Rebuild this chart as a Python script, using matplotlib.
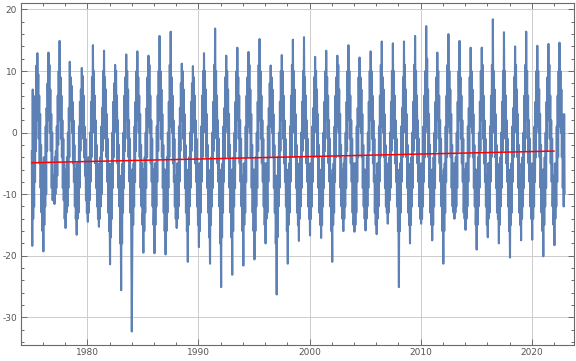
#!/usr/bin/env python
"""
Daily-ish temperature series 1975-2022 with a linear trend, Mathematica look.
"""

# Standard library modules.

# Third party modules.
import numpy as np
import matplotlib
matplotlib.use("Agg")
import matplotlib.pyplot as plt
from matplotlib.ticker import MultipleLocator

# Globals and constants variables.
# Values, two samples a month:
# Jan1 Jan16 Feb1 Feb15 Mar1 Mar16 Apr1 Apr16 May1 May16 Jun1 Jun16
# Jul1 Jul16 Aug1 Aug16 Sep1 Sep16 Oct1 Oct16 Nov1 Nov16 Dec1 Dec16
FIRST_YEAR = 1975

temps_1975_1979 = [
    [-3.0, -18.4, 7.0, -14.0, -4.0, -12.0, 1.0, -8.0, 6.0, -3.0, 10.9, 2.0, 12.9, 4.0, 9.5, -1.0, 6.0, -5.0, 3.0, -9.0, -2.0, -13.0, -5.0, -16.0],
    [-11.0, -19.3, -4.0, -15.0, -6.0, -12.0, 1.0, -10.0, 4.0, -3.0, 8.0, 2.0, 13.0, 5.0, 11.0, 0.0, 7.0, -3.0, 3.0, -9.0, 0.0, -11.0, -7.0, -10.0],
    [-8.0, -11.6, -4.0, -10.0, -3.0, -9.0, 1.0, -7.0, 6.0, -2.0, 10.0, 3.0, 14.9, 2.0, 9.0, -1.0, 6.0, -4.0, 2.0, -9.0, -1.0, -11.0, -5.0, -14.0],
    [-10.0, -15.5, -6.0, -13.0, -4.0, -12.0, 0.0, -9.0, 4.0, -4.0, 11.5, 2.0, 9.0, 3.0, 7.6, 0.0, 5.0, -5.0, 2.0, -8.0, -2.0, -12.0, -6.0, -14.0],
    [-12.0, -16.6, -5.0, -14.0, -5.0, -13.0, 1.0, -9.0, 5.0, -3.0, 7.0, 0.0, 10.5, 2.0, 9.2, -1.0, 6.0, -4.0, 1.0, -7.0, -1.0, -11.0, -7.0, -13.0],
]

temps_1980s = [
    [-10.0, -14.5, -4.0, -13.0, -6.0, -11.0, 0.0, -8.0, 5.0, -4.0, 9.0, 1.0, 14.2, 3.0, 10.0, 0.0, 6.0, -5.0, 2.0, -9.0, -2.0, -12.0, -6.0, -14.0],
    [-11.0, -15.3, -5.0, -14.0, -4.0, -12.0, 1.0, -10.0, 4.0, -3.0, 10.0, 2.0, 13.3, 4.0, 9.0, -1.0, 7.0, -4.0, 3.0, -8.0, -1.0, -13.0, -5.0, -16.0],
    [-12.0, -21.4, -6.0, -17.0, -5.0, -14.0, 0.0, -9.0, 5.0, -4.0, 8.0, 1.0, 11.0, 3.0, 10.0, 0.0, 6.0, -5.0, 2.0, -9.0, -2.0, -12.0, -7.0, -18.0],
    [-14.0, -25.6, -8.0, -18.0, -5.0, -13.0, 0.0, -9.0, 6.0, -3.0, 9.0, 2.0, 12.7, 3.0, 10.0, -1.0, 7.0, -4.0, 2.0, -8.0, -1.0, -13.0, -6.0, -20.0],
    [-32.3, -18.0, -6.0, -15.0, -5.0, -12.0, 1.0, -8.0, 5.0, -3.0, 10.0, 2.0, 13.2, 4.0, 9.0, 0.0, 6.0, -4.0, 3.0, -9.0, -2.0, -12.0, -5.0, -15.0],
    [-13.0, -19.5, -6.0, -16.0, -4.0, -13.0, 0.0, -9.0, 4.0, -4.0, 9.0, 1.0, 12.5, 3.0, 11.0, 0.0, 6.0, -5.0, 2.0, -8.0, -1.0, -12.0, -6.0, -15.0],
    [-12.0, -19.6, -5.0, -15.0, -5.0, -12.0, 1.0, -8.0, 6.0, -3.0, 10.0, 2.0, 15.7, 4.0, 10.0, -1.0, 7.0, -4.0, 3.0, -9.0, -2.0, -13.0, -6.0, -16.0],
    [-11.0, -19.8, -6.0, -16.0, -4.0, -13.0, 0.0, -9.0, 5.0, -4.0, 11.0, 1.0, 16.4, 3.0, 9.0, 0.0, 6.0, -5.0, 2.0, -8.0, -1.0, -12.0, -7.0, -14.0],
    [-10.0, -15.5, -5.0, -14.0, -5.0, -12.0, 1.0, -8.0, 4.0, -3.0, 8.0, 2.0, 11.2, 3.0, 10.0, -1.0, 7.0, -4.0, 3.0, -9.0, -2.0, -13.0, -6.0, -16.0],
    [-13.0, -21.0, -6.0, -15.0, -4.0, -12.0, 0.0, -9.0, 5.0, -3.0, 8.0, 1.0, 10.8, 2.0, 9.0, 0.0, 6.0, -5.0, 2.0, -8.0, -1.0, -12.0, -5.0, -15.0],
]

temps_1990s = [
    [-12.0, -18.6, -5.0, -16.0, -5.0, -13.0, 1.0, -8.0, 6.0, -4.0, 10.0, 2.0, 12.9, 4.0, 10.0, 0.0, 7.0, -4.0, 3.0, -9.0, -2.0, -13.0, -7.0, -17.0],
    [-13.0, -21.3, -6.0, -15.0, -4.0, -12.0, 0.0, -9.0, 5.0, -3.0, 11.0, 2.0, 16.9, 3.0, 10.0, -1.0, 6.0, -5.0, 2.0, -8.0, -1.0, -12.0, -6.0, -18.0],
    [-14.0, -25.1, -7.0, -17.0, -5.0, -13.0, 1.0, -8.0, 4.0, -4.0, 9.0, 1.0, 12.5, 3.0, 10.0, 0.0, 7.0, -4.0, 3.0, -9.0, -2.0, -13.0, -6.0, -17.0],
    [-13.0, -23.1, -6.0, -16.0, -4.0, -12.0, 0.0, -9.0, 5.0, -3.0, 10.0, 2.0, 13.8, 4.0, 9.0, -1.0, 6.0, -5.0, 2.0, -8.0, -1.0, -12.0, -7.0, -16.0],
    [-12.0, -21.6, -5.0, -15.0, -5.0, -13.0, 1.0, -8.0, 6.0, -4.0, 9.0, 1.0, 13.1, 3.0, 11.0, 0.0, 7.0, -4.0, 3.0, -9.0, -2.0, -13.0, -6.0, -16.0],
    [-11.0, -20.6, -6.0, -16.0, -4.0, -12.0, 0.0, -9.0, 5.0, -3.0, 11.0, 2.0, 15.2, 4.0, 10.0, -1.0, 6.0, -5.0, 2.0, -8.0, -1.0, -12.0, -5.0, -15.0],
    [-10.0, -18.0, -5.0, -14.0, -5.0, -13.0, 1.0, -8.0, 4.0, -4.0, 8.0, 1.0, 10.9, 3.0, 9.0, 0.0, 7.0, -4.0, 3.0, -9.0, -2.0, -13.0, -7.0, -18.0],
    [-14.0, -26.3, -7.0, -17.0, -4.0, -12.0, 0.0, -9.0, 5.0, -3.0, 10.0, 2.0, 12.6, 4.0, 10.0, -1.0, 6.0, -5.0, 2.0, -8.0, -1.0, -12.0, -6.0, -16.0],
    [-12.0, -21.3, -6.0, -15.0, -5.0, -13.0, 1.0, -8.0, 6.0, -4.0, 11.0, 1.0, 15.1, 3.0, 10.0, 0.0, 7.0, -4.0, 3.0, -9.0, -2.0, -13.0, -6.0, -15.0],
    [-11.0, -17.6, -5.0, -14.0, -4.0, -12.0, 0.0, -9.0, 5.0, -3.0, 10.0, 2.0, 15.5, 4.0, 9.0, -1.0, 6.0, -5.0, 2.0, -8.0, -1.0, -12.0, -5.0, -14.0],
]

temps_2000s = [
    [-10.0, -16.7, -5.0, -14.0, -5.0, -12.0, 1.0, -8.0, 4.0, -4.0, 9.0, 1.0, 12.3, 3.0, 10.0, 0.0, 7.0, -4.0, 3.0, -9.0, -2.0, -13.0, -6.0, -15.0],
    [-11.0, -17.1, -6.0, -15.0, -4.0, -12.0, 0.0, -9.0, 5.0, -3.0, 10.0, 2.0, 13.3, 4.0, 9.0, -1.0, 6.0, -5.0, 2.0, -8.0, -1.0, -12.0, -7.0, -16.0],
    [-12.0, -21.0, -6.0, -15.0, -5.0, -13.0, 1.0, -8.0, 6.0, -4.0, 9.0, 1.0, 12.5, 3.0, 11.0, 0.0, 7.0, -4.0, 3.0, -9.0, -2.0, -12.0, -6.0, -14.0],
    [-10.0, -16.0, -5.0, -14.0, -4.0, -12.0, 0.0, -9.0, 5.0, -3.0, 10.0, 2.0, 14.2, 4.0, 10.0, -1.0, 6.0, -5.0, 2.0, -8.0, -1.0, -13.0, -5.0, -15.0],
    [-11.0, -16.1, -5.0, -15.0, -5.0, -13.0, 1.0, -8.0, 4.0, -4.0, 9.0, 1.0, 12.2, 3.0, 9.0, 0.0, 7.0, -4.0, 3.0, -9.0, -2.0, -12.0, -6.0, -14.0],
    [-10.0, -15.9, -6.0, -14.0, -4.0, -12.0, 0.0, -9.0, 5.0, -3.0, 10.0, 2.0, 13.2, 4.0, 10.0, -1.0, 6.0, -5.0, 2.0, -8.0, -1.0, -13.0, -7.0, -15.0],
    [-11.0, -16.5, -5.0, -14.0, -5.0, -12.0, 1.0, -8.0, 6.0, -4.0, 11.0, 1.0, 14.8, 3.0, 9.0, 0.0, 7.0, -4.0, 3.0, -9.0, -2.0, -12.0, -5.0, -13.0],
    [-9.0, -14.8, -5.0, -13.0, -4.0, -11.0, 0.0, -9.0, 5.0, -3.0, 10.0, 2.0, 14.5, 4.0, 10.0, -1.0, 6.0, -5.0, 2.0, -8.0, -1.0, -12.0, -6.0, -16.0],
    [-13.0, -25.1, -6.0, -16.0, -5.0, -13.0, 1.0, -8.0, 4.0, -4.0, 9.0, 1.0, 14.8, 3.0, 11.0, 0.0, 7.0, -4.0, 3.0, -9.0, -2.0, -13.0, -6.0, -15.0],
    [-11.0, -18.0, -5.0, -15.0, -4.0, -12.0, 0.0, -9.0, 5.0, -3.0, 11.0, 2.0, 15.7, 4.0, 10.0, -1.0, 6.0, -5.0, 2.0, -8.0, -1.0, -12.0, -5.0, -14.0],
]

temps_2010s = [
    [-10.0, -14.8, -5.0, -14.0, -5.0, -12.0, 1.0, -8.0, 6.0, -4.0, 10.0, 1.0, 17.3, 3.0, 12.0, 0.0, 7.0, -4.0, 3.0, -9.0, -2.0, -13.0, -6.0, -15.0],
    [-11.0, -17.5, -6.0, -15.0, -4.0, -12.0, 0.0, -9.0, 5.0, -3.0, 9.0, 2.0, 13.0, 4.0, 10.0, -1.0, 6.0, -5.0, 2.0, -8.0, -1.0, -12.0, -7.0, -16.0],
    [-12.0, -21.3, -6.0, -16.0, -5.0, -13.0, 1.0, -8.0, 6.0, -4.0, 11.0, 1.0, 16.0, 3.0, 10.0, 0.0, 7.0, -4.0, 3.0, -9.0, -2.0, -12.0, -5.0, -13.0],
    [-9.0, -14.0, -5.0, -13.0, -4.0, -12.0, 0.0, -9.0, 5.0, -3.0, 10.0, 2.0, 14.9, 4.0, 9.0, -1.0, 6.0, -5.0, 2.0, -8.0, -1.0, -13.0, -6.0, -14.0],
    [-10.0, -15.8, -5.0, -14.0, -5.0, -12.0, 1.0, -8.0, 4.0, -4.0, 9.0, 1.0, 13.8, 3.0, 10.0, 0.0, 7.0, -4.0, 3.0, -9.0, -2.0, -12.0, -6.0, -15.0],
    [-11.0, -19.0, -6.0, -15.0, -4.0, -12.0, 0.0, -9.0, 5.0, -3.0, 10.0, 2.0, 13.8, 4.0, 11.0, -1.0, 6.0, -5.0, 2.0, -8.0, -1.0, -12.0, -7.0, -15.0],
    [-10.0, -17.0, -5.0, -14.0, -5.0, -13.0, 1.0, -8.0, 6.0, -4.0, 11.0, 1.0, 18.4, 3.0, 10.0, 0.0, 7.0, -4.0, 3.0, -9.0, -2.0, -13.0, -5.0, -14.0],
    [-11.0, -18.0, -6.0, -15.0, -4.0, -12.0, 0.0, -9.0, 5.0, -3.0, 10.0, 2.0, 16.3, 4.0, 10.0, -1.0, 6.0, -5.0, 2.0, -8.0, -1.0, -12.0, -6.0, -16.0],
    [-12.0, -20.3, -6.0, -15.0, -5.0, -13.0, 1.0, -8.0, 4.0, -4.0, 9.0, 1.0, 14.0, 3.0, 11.0, 0.0, 7.0, -4.0, 3.0, -9.0, -2.0, -13.0, -7.0, -15.0],
    [-11.0, -17.5, -5.0, -14.0, -4.0, -12.0, 0.0, -9.0, 6.0, -3.0, 11.0, 2.0, 16.4, 4.0, 10.0, -1.0, 6.0, -5.0, 2.0, -8.0, -1.0, -12.0, -5.0, -14.0],
]

temps_2020_2022 = [
    [-10.0, -17.4, -5.0, -14.0, -5.0, -12.0, 1.0, -8.0, 5.0, -4.0, 10.0, 1.0, 14.1, 3.0, 10.0, 0.0, 7.0, -4.0, 3.0, -9.0, -2.0, -13.0, -6.0, -16.0],
    [-12.0, -20.1, -6.0, -15.0, -4.0, -12.0, 0.0, -9.0, 5.0, -3.0, 9.0, 2.0, 14.4, 4.0, 11.0, -1.0, 6.0, -5.0, 2.0, -8.0, -1.0, -12.0, -7.0, -15.0],
    [-11.0, -18.3, -5.0, -14.0, -5.0, -12.0, 1.0, -8.0, 6.0, -4.0, 10.0, 1.0, 14.6, 3.0, 10.0, 0.0, 7.0, -4.0, 3.0, -9.0, -2.0, -12.0, 3.0, -9.9],
]

# Linear fit as drawn on the chart (red line).
trend_years = [1975.0, 2022.0]
trend_values = [-4.9, -3.0]

LINE_COLOR = "#5e81b5"
FRAME_COLOR = "#6b6b6b"
LABEL_COLOR = "#555555"


def build_series():
    rows = temps_1975_1979 + temps_1980s + temps_1990s + temps_2000s + temps_2010s + temps_2020_2022
    values = np.array(rows, dtype=float)
    nYears, nSamples = values.shape
    years = FIRST_YEAR + np.arange(nYears)
    times = years[:, None] + np.arange(nSamples)[None, :] / nSamples
    return times.ravel(), values.ravel()


def run():
    plt.rcParams['axes.unicode_minus'] = False

    times, values = build_series()

    fig = plt.figure(figsize=(5.76, 3.61), dpi=100)
    ax = fig.add_axes([20.7 / 576, 1 - 345.0 / 361, (574.3 - 20.7) / 576, (345.0 - 3.3) / 361])

    ax.plot(times, values, color=LINE_COLOR, lw=1.5)
    ax.plot(trend_years, trend_values, color="#ff0000", lw=1.1)

    ax.set_xlim(1974.0, 2023.83)
    ax.set_ylim(-34.5, 21.0)

    ax.xaxis.set_major_locator(MultipleLocator(10))
    ax.xaxis.set_minor_locator(MultipleLocator(2))
    ax.yaxis.set_major_locator(MultipleLocator(10))
    ax.yaxis.set_minor_locator(MultipleLocator(2))

    ax.set_axisbelow(True)
    ax.grid(which="major", color="#cccccc", lw=0.7)

    ax.tick_params(which="both", direction="in", top=True, right=True,
                   color=FRAME_COLOR, width=0.7, labelsize=6.5, labelcolor=LABEL_COLOR)
    ax.tick_params(which="major", length=4.2, pad=2.5)
    ax.tick_params(which="minor", length=2.4)

    for spine in ax.spines.values():
        spine.set_color(FRAME_COLOR)
        spine.set_linewidth(0.8)

    fig.savefig("out.png", dpi=100)


if __name__ == '__main__':
    run()
